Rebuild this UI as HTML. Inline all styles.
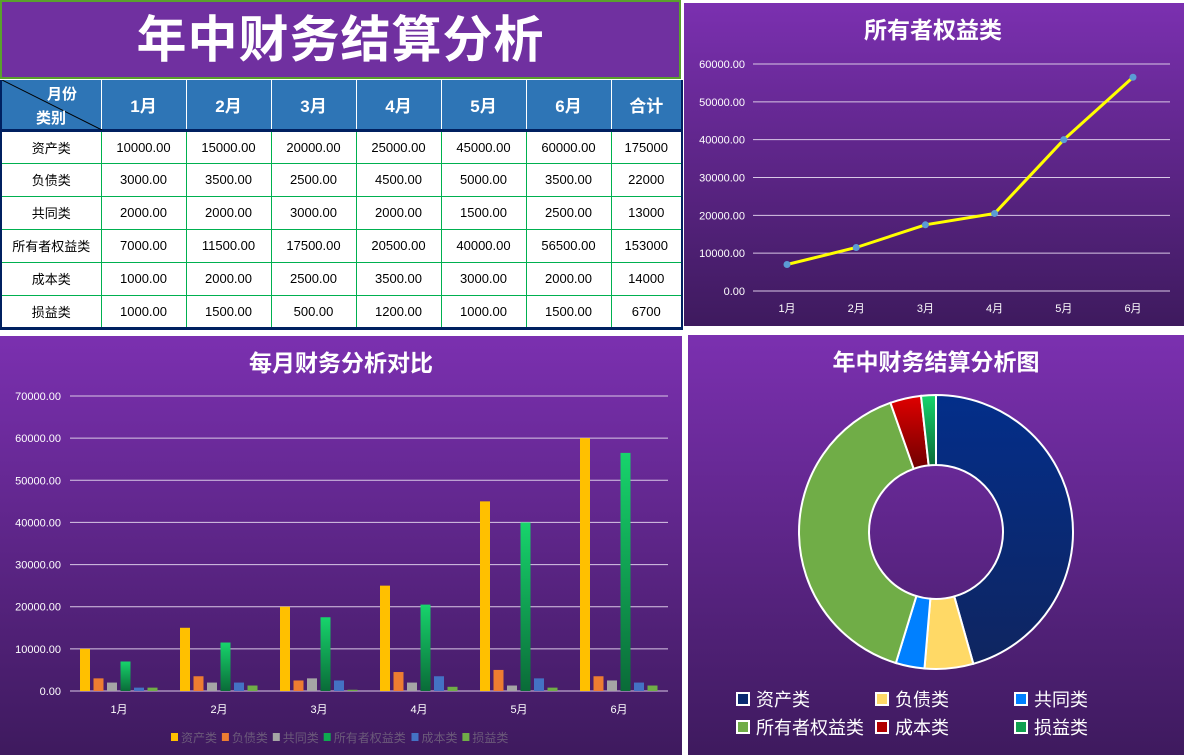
<!DOCTYPE html>
<html><head><meta charset="utf-8">
<style>
*{margin:0;padding:0;box-sizing:border-box}
body{width:1184px;height:755px;background:#fff;position:relative;overflow:hidden;font-family:"Liberation Sans","Noto Sans CJK SC",sans-serif}
.abs{position:absolute}
#title{left:0;top:0;width:681px;height:79px;background:#7030a0;border:2px solid #5aa02c;color:#fff;font-size:50px;font-weight:bold;text-align:center;line-height:76px;letter-spacing:1px}
table{position:absolute;left:0;top:80px;width:681px;border-collapse:collapse;font-size:13px;table-layout:fixed}
th{background:#2e75b6;color:#fff;font-size:17px;height:50px;border-right:1px solid #fff;font-weight:bold}
td{height:33px;text-align:center;border:1px solid #00b050;color:#000}
tbody{border-bottom:3px solid #002060}
thead{border-bottom:3px solid #002060}
.panel{background:linear-gradient(#7b30b0,#3e1a5e)}
</style></head><body>
<div id="title" class="abs">年中财务结算分析</div>
<table>
<colgroup><col style="width:100px"><col style="width:85px"><col style="width:85px"><col style="width:85px"><col style="width:85px"><col style="width:85px"><col style="width:85px"><col style="width:71px"></colgroup>
<thead><tr>
<th style="position:relative;border-left:2px solid #002060"><svg style="position:absolute;left:0;top:0" width="100" height="50"><line x1="0" y1="0" x2="100" y2="50" stroke="#000" stroke-width="1"/></svg><div style="position:absolute;left:45px;top:3px;font-size:15px">月份</div><div style="position:absolute;left:34px;top:27px;font-size:15px">类别</div></th>
<th>1月</th><th>2月</th><th>3月</th><th>4月</th><th>5月</th><th>6月</th><th style="border-right:2px solid #002060">合计</th></tr></thead>
<tbody id="tb"></tbody></table>

<div class="abs panel" style="left:684px;top:3px;width:500px;height:323px"></div>
<div class="abs panel" style="left:0;top:336px;width:682px;height:419px"></div>
<div class="abs panel" style="left:688px;top:335px;width:496px;height:420px"></div>
<svg id="svg" class="abs" style="left:0;top:0" width="1184" height="755" font-family="Liberation Sans, Noto Sans CJK SC, sans-serif">
<defs>
<linearGradient id="gg" x1="0" y1="0" x2="0" y2="1"><stop offset="0" stop-color="#17d46c"/><stop offset="1" stop-color="#0a6b38"/></linearGradient>
<linearGradient id="gb" x1="0" y1="0" x2="0" y2="1"><stop offset="0" stop-color="#032e8a"/><stop offset="1" stop-color="#0f2560"/></linearGradient>
<linearGradient id="gr" x1="0" y1="0" x2="0" y2="1"><stop offset="0" stop-color="#e00000"/><stop offset="1" stop-color="#700000"/></linearGradient>
<linearGradient id="gs" x1="0" y1="0" x2="0" y2="1"><stop offset="0" stop-color="#17d46c"/><stop offset="1" stop-color="#0a6b38"/></linearGradient>
</defs>
<text x="933" y="38" fill="#fff" font-size="23" font-weight="bold" text-anchor="middle">所有者权益类</text>
<text x="341" y="371" fill="#fff" font-size="23" font-weight="bold" text-anchor="middle">每月财务分析对比</text>
<text x="936" y="370" fill="#fff" font-size="23" font-weight="bold" text-anchor="middle">年中财务结算分析图</text>
</svg>
<script>
const cats=["资产类","负债类","共同类","所有者权益类","成本类","损益类"];
const months=["1月","2月","3月","4月","5月","6月"];
const tableVals=[["10000.00","15000.00","20000.00","25000.00","45000.00","60000.00","175000"],["3000.00","3500.00","2500.00","4500.00","5000.00","3500.00","22000"],["2000.00","2000.00","3000.00","2000.00","1500.00","2500.00","13000"],["7000.00","11500.00","17500.00","20500.00","40000.00","56500.00","153000"],["1000.00","2000.00","2500.00","3500.00","3000.00","2000.00","14000"],["1000.00","1500.00","500.00","1200.00","1000.00","1500.00","6700"]];
const lineVals=[7000,11500,17500,20500,40000,56500];
const lineTicks=[0,10000,20000,30000,40000,50000,60000];
const barAsset=[10000,15000,20000,25000,45000,60000];
const barDebt=[3000,3500,2500,4500,5000,3500];
const barCommon=[2000,2000,3000,2000,1300,2500];
const barEquity=[7000,11500,17500,20500,40000,56500];
const barCost=[800,2000,2500,3500,3000,2000];
const barProfit=[800,1300,300,1000,800,1300];
const barTicks=[0,10000,20000,30000,40000,50000,60000,70000];
const pieVals=[175000,22000,13000,153000,14000,6700];

const tb=document.getElementById('tb');
cats.forEach((c,i)=>{const tr=document.createElement('tr');


tr.innerHTML='<td style="border-left:2px solid #002060">'+c+'</td>'+tableVals[i].map((v,j)=>'<td'+(j==6?' style="border-right:2px solid #002060"':'')+'>'+v+'</td>').join('');
tb.appendChild(tr);});

const svg=document.getElementById('svg');const NS='http://www.w3.org/2000/svg';
function mk(t,a,p){const e=document.createElementNS(NS,t);for(const k in a)e.setAttribute(k,a[k]);(p||svg).appendChild(e);return e;}
// line chart
const ly=v=>291-v/60000*227, lx=i=>787+i*69.2;
lineTicks.forEach(t=>{const l=mk('line',{x1:753,x2:1170,y1:ly(t),y2:ly(t),stroke:'#d9c8e6','stroke-width':1});

const tx=mk('text',{x:745,y:ly(t)+4,fill:'#fff','font-size':11,'text-anchor':'end'});tx.textContent=t.toFixed(2);
});
months.forEach((m,i)=>{const t=mk('text',{x:lx(i),y:312,fill:'#fff','font-size':11,'text-anchor':'middle'});t.textContent=m;
});
const pl=mk('polyline',{points:lineVals.map((v,i)=>lx(i)+','+ly(v)).join(' '),fill:'none',stroke:'#ffff00','stroke-width':3});

lineVals.forEach((v,i)=>{const c=mk('circle',{cx:lx(i),cy:ly(v),r:3.5,fill:'#5b9bd5'});
});
// bar chart
const by=v=>691-v/70000*295, bx=i=>119+i*100;
barTicks.forEach(t=>{const l=mk('line',{x1:70,x2:668,y1:by(t),y2:by(t),stroke:'#d9c8e6','stroke-width':1});

const tx=mk('text',{x:61,y:by(t)+4,fill:'#fff','font-size':11,'text-anchor':'end'});tx.textContent=t.toFixed(2);
});
const series=[barAsset,barDebt,barCommon,barEquity,barCost,barProfit];
const cols=['#ffc000','#ed7d31','#a5a5a5','url(#gg)','#4472c4','#70ad47'];
series.forEach((s,k)=>s.forEach((v,i)=>{const r=mk('rect',{x:bx(i)-39+k*13.5,y:by(v),width:10,height:691-by(v),fill:cols[k]});
}));
months.forEach((m,i)=>{const t=mk('text',{x:bx(i),y:713,fill:'#fff','font-size':11,'text-anchor':'middle'});t.textContent=m;
});
const legCols=['#ffc000','#ed7d31','#a5a5a5','#0fa850','#4472c4','#70ad47'];
let lxp=171;
cats.forEach((c,k)=>{const g=mk('g',{});

mk('rect',{x:lxp,y:733,width:7,height:8,fill:legCols[k]},g);
const t=mk('text',{x:lxp+10,y:742,fill:'#6b5a7a','font-size':12},g);t.textContent=c;
lxp+=10+c.length*12.3+4;});
// pie
const cx=936,cy=532,R=137,r0=67;const tot=pieVals.reduce((a,b)=>a+b,0);
const pcols=['url(#gb)','#ffd966','#0080ff','#70ad47','url(#gr)','url(#gs)'];
let a=0;
pieVals.forEach((v,k)=>{const a1=a+v/tot*2*Math.PI;
const p=(rr,t)=>(cx+rr*Math.sin(t)).toFixed(2)+' '+(cy-rr*Math.cos(t)).toFixed(2);
const lg=(a1-a)>Math.PI?1:0;
const d='M'+p(R,a)+' A'+R+' '+R+' 0 '+lg+' 1 '+p(R,a1)+' L'+p(r0,a1)+' A'+r0+' '+r0+' 0 '+lg+' 0 '+p(r0,a)+' Z';
const e=mk('path',{d:d,fill:pcols[k],stroke:'#fff','stroke-width':2});
a=a1;});
const pl2=['#0a2a70','#ffd966','#0080ff','#70ad47','#b00000','#10a050'];
cats.forEach((c,k)=>{const col=k%3,row=Math.floor(k/3);const x=737+col*139,y=700+row*28;
const g=mk('g',{});
mk('rect',{x:x,y:y-7,width:12,height:12,fill:pl2[k],stroke:'#fff','stroke-width':2},g);
const t=mk('text',{x:x+19,y:y+6,fill:'#fff','font-size':18},g);t.textContent=c;});
</script>
</body></html>
